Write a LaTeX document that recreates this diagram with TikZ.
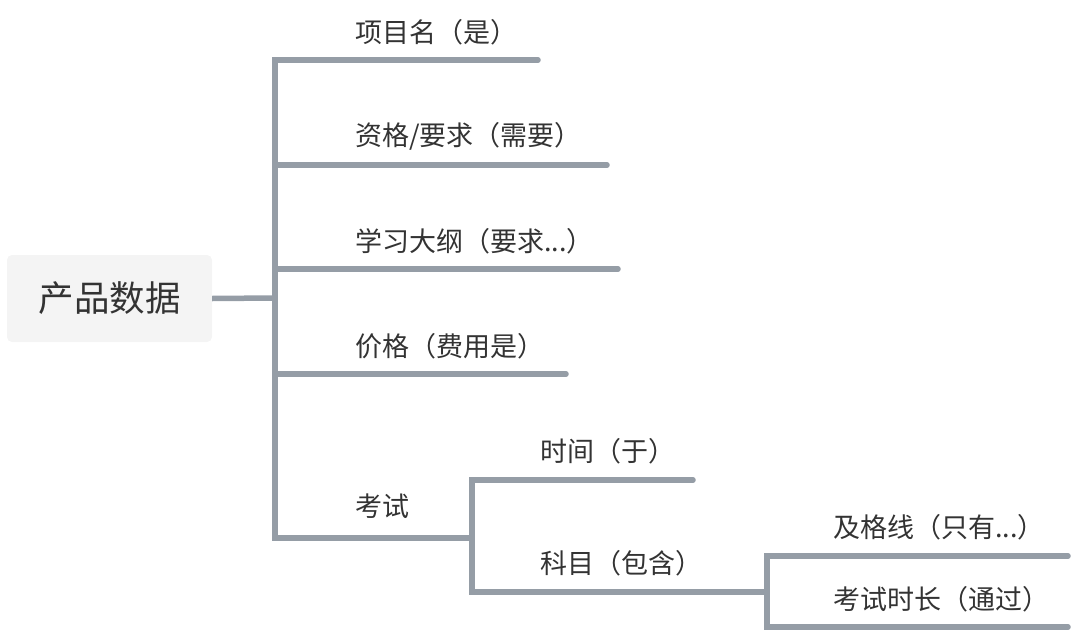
\documentclass[tikz,border=0pt]{standalone}
\usepackage{fontspec}
\setmainfont{Noto Sans CJK SC}
\definecolor{linegray}{RGB}{149,157,166}
\definecolor{txt}{RGB}{51,51,51}
\definecolor{rootfill}{RGB}{244,244,244}
\tikzset{
  conn/.style={draw=linegray, line width=5.5pt, line cap=round, line join=miter},
  lbl/.style={anchor=west, inner sep=0pt, text=txt, font=\fontsize{27}{31}\selectfont},
  rootbox/.style={fill=rootfill, rounded corners=5pt, minimum width=205pt, minimum height=87pt, inner sep=0pt, text=txt, font=\fontsize{35.5}{40}\selectfont}
}
\begin{document}
\begin{tikzpicture}[x=1pt,y=-1pt]
\useasboundingbox (0,0) rectangle (1078,634);
\node[rootbox] (root) at (109.5,298.5) {产品数据};
% junctions and line ends
\coordinate (j1) at (275,298);
\coordinate (j2) at (472,538);
\coordinate (j3) at (767,592);
\coordinate (e1) at (538,60);
\coordinate (e2) at (607,165);
\coordinate (e3) at (618,269);
\coordinate (e4) at (566,374);
\coordinate (e6) at (693,480);
\coordinate (e8) at (1068,556);
\coordinate (e9) at (1068,627);
% labels
\node[lbl] (n1) at (355,32) {项目名（是）};
\node[lbl] (n2) at (355,136) {资格/要求（需要）};
\node[lbl] (n3) at (355,241) {学习大纲（要求...）};
\node[lbl] (n4) at (355,346) {价格（费用是）};
\node[lbl] (n5) at (355,506) {考试};
\node[lbl] (n6) at (540,451) {时间（于）};
\node[lbl] (n7) at (540,563) {科目（包含）};
\node[lbl] (n8) at (833,527) {及格线（只有...）};
\node[lbl] (n9) at (833,599) {考试时长（通过）};
% connectors
\draw[conn, line cap=butt] (root.east) -- (j1);
\draw[conn] (e1) -| (j1);
\draw[conn] (e2) -| (j1);
\draw[conn] (e3) -| (j1);
\draw[conn] (e4) -| (j1);
\draw[conn] (j2) -| (j1);
\draw[conn] (e6) -| (j2);
\draw[conn] (j3) -| (j2);
\draw[conn] (e8) -| (j3);
\draw[conn] (e9) -| (j3);
\end{tikzpicture}
\end{document}
